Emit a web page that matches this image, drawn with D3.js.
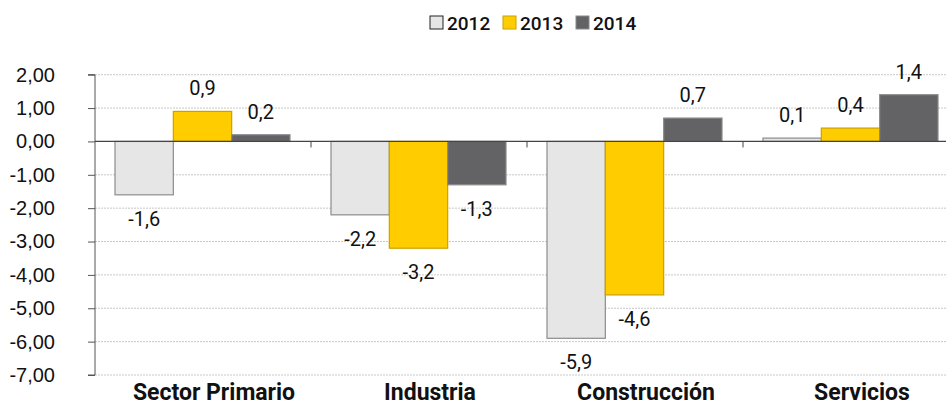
<!DOCTYPE html>
<html><head><meta charset="utf-8">
<script src="https://cdn.jsdelivr.net/npm/d3@7"></script>
<style>body{margin:0;background:#fff;} svg{display:block;font-family:Roboto,"Noto Sans",sans-serif;}</style>
</head><body>
<svg id="c" width="946" height="407"></svg>
<script>
const categories = ["Sector Primario","Industria","Construcción","Servicios"];
const seriesNames = ["2012","2013","2014"];
const v2012 = [-1.6,-2.2,-5.9,0.1];
const v2013 = [0.9,-3.2,-4.6,0.4];
const v2014 = [0.2,-1.3,0.7,1.4];
const yTicks = [2,1,0,-1,-2,-3,-4,-5,-6,-7];
const fills = ["#e6e6e6","#ffcc00","#636366"];
const strokes = ["#8c8c8c","#c9a200","#8a8a8e"];

const series = [v2012,v2013,v2014];
const svg = d3.select("#c");
const y = d3.scaleLinear().domain([-7,2]).range([375,74.7]);
const x0 = d3.scaleBand().domain(categories).range([95,959]).paddingInner(0).paddingOuter(0);
const x1 = d3.scaleBand().domain(seriesNames).range([20, x0.bandwidth()-21]).padding(0);
const fix = s => s.replace("−","-").replace(".",",");
const fmt = v => fix(d3.format(".1f")(v));

// gridlines
svg.append("g").selectAll("line").data(yTicks.filter(t=>t!==0)).join("line")
  .attr("x1",95).attr("x2",946).attr("y1",d=>y(d)).attr("y2",d=>y(d))
  .attr("stroke","#c8c8c8").attr("stroke-width",1).attr("stroke-dasharray","2,1");

// y axis
const ya = d3.axisLeft(y).tickValues(yTicks).tickSize(7).tickFormat(d=>fix(d3.format(".2f")(d)));
const yg = svg.append("g").attr("transform","translate(95,0)").call(ya);
yg.select(".domain").attr("stroke","#555").attr("d","M-7,"+y(2)+"H0V"+y(-7)+"H-7");
yg.selectAll(".tick line").attr("stroke","#555");
yg.selectAll(".tick text").attr("font-size",20).attr("font-weight",500).attr("fill","#111").attr("text-anchor","end").attr("x",-40);

// bars
const groups = svg.append("g").selectAll("g").data(categories).join("g")
  .attr("transform",d=>`translate(${x0(d)},0)`);
groups.selectAll("rect").data((c,i)=>seriesNames.map((s,j)=>({s,j,v:series[j][i]}))).join("rect")
  .attr("x",d=>x1(d.s)).attr("width",x1.bandwidth())
  .attr("y",d=>y(Math.max(0,d.v))).attr("height",d=>Math.abs(y(d.v)-y(0)))
  .attr("fill",d=>fills[d.j]).attr("stroke",d=>strokes[d.j]).attr("stroke-width",1.2);
groups.selectAll("text").data((c,i)=>seriesNames.map((s,j)=>({s,j,v:series[j][i]}))).join("text")
  .attr("x",d=>x1(d.s)+x1.bandwidth()/2)
  .attr("y",d=>d.v>=0 ? y(d.v)-23 : y(d.v)+24)
  .attr("dy","0.35em").attr("text-anchor","middle").attr("font-size",20).attr("fill","#111")
  .text(d=>fmt(d.v));

// zero line and category ticks
svg.append("line").attr("x1",95).attr("x2",946).attr("y1",y(0)).attr("y2",y(0)).attr("stroke","#444").attr("stroke-width",1.2);
svg.append("g").selectAll("line").data(categories.slice(1)).join("line")
  .attr("x1",d=>x0(d)).attr("x2",d=>x0(d)).attr("y1",y(0)).attr("y2",y(0)+6).attr("stroke","#444");

// category labels
svg.append("g").selectAll("text").data(categories).join("text")
  .attr("x",d=>x0(d)+x0.bandwidth()/2+11).attr("y",400)
  .attr("text-anchor","middle").attr("font-size",23).attr("font-weight","bold").attr("fill","#111")
  .text(d=>d);

// legend
const lx = [430,503,576];
const lg = svg.append("g").selectAll("g").data(seriesNames).join("g").attr("transform",(d,i)=>`translate(${lx[i]},16)`);
lg.append("rect").attr("width",13).attr("height",13).attr("fill",(d,i)=>fills[i]).attr("stroke",(d,i)=>i===0?"#222":strokes[i]).attr("stroke-width",1);
lg.append("text").attr("x",17).attr("y",7).attr("dy","0.35em").attr("font-size",19).attr("font-weight",500).attr("fill","#111").text(d=>d);
</script>
</body></html>
